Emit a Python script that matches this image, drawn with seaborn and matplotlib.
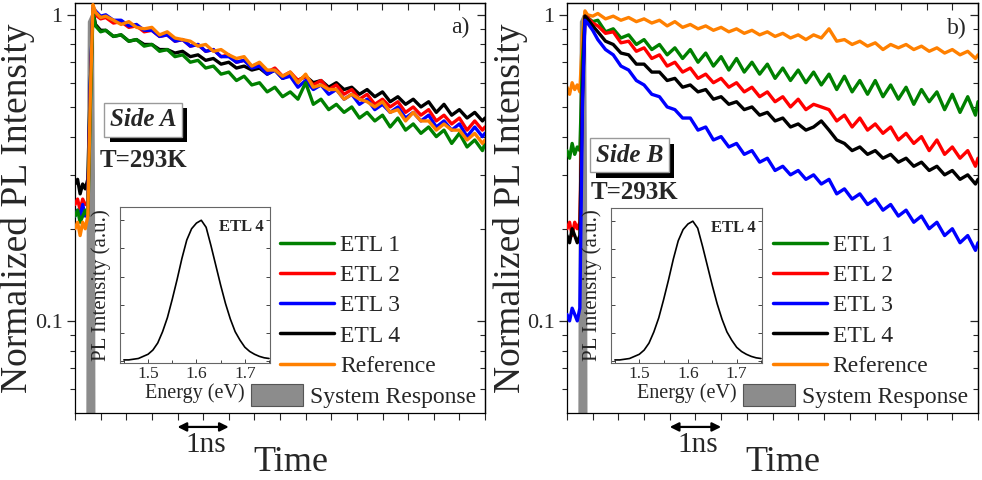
import numpy as np
import pandas as pd
import matplotlib
matplotlib.use("Agg")
import matplotlib.pyplot as plt
import seaborn as sns
from matplotlib.lines import Line2D
from matplotlib.patches import Patch
import matplotlib.patheffects as pe
from matplotlib.ticker import NullFormatter

# ---------------- data ----------------
time_ns = [0.00, 0.05, 0.10, 0.15, 0.20, 0.25, 0.30, 0.35, 0.40,
           0.50, 0.60,
           0.75, 0.90, 1.05, 1.20, 1.35, 1.50, 1.65, 1.80, 1.95, 2.10,
           2.25, 2.40, 2.55, 2.70, 2.85, 3.00, 3.15, 3.30, 3.45, 3.60,
           3.75, 3.90, 4.05, 4.20, 4.35, 4.50, 4.65, 4.80, 4.95, 5.10,
           5.25, 5.40, 5.55, 5.70, 5.85, 6.00, 6.15, 6.30, 6.45, 6.60,
           6.75, 6.90, 7.05, 7.20, 7.35, 7.50, 7.65, 7.80, 7.95, 8.00]

# Side A
a_ref = [0.20, 0.21, 0.19, 0.21, 0.20, 0.22, 0.55, 1.08, 1.02,
         0.98, 0.99,
         0.96, 0.93, 0.95, 0.91, 0.90, 0.91, 0.86, 0.88, 0.84, 0.83,
         0.82, 0.79, 0.80, 0.76, 0.77, 0.74, 0.72, 0.73, 0.68, 0.70,
         0.66, 0.66, 0.63, 0.65, 0.60, 0.64, 0.58, 0.59, 0.57, 0.57,
         0.53, 0.55, 0.53, 0.52, 0.50, 0.52, 0.48, 0.49, 0.45, 0.48,
         0.45, 0.45, 0.42, 0.44, 0.42, 0.42, 0.39, 0.41, 0.38, 0.39]
a_etl1 = [0.22, 0.23, 0.21, 0.22, 0.23, 0.22, 0.50, 1.02, 0.92,
          0.88, 0.89,
          0.85, 0.86, 0.82, 0.83, 0.79, 0.80, 0.76, 0.77, 0.73, 0.74,
          0.70, 0.71, 0.67, 0.68, 0.64, 0.65, 0.61, 0.63, 0.59, 0.60,
          0.56, 0.58, 0.54, 0.56, 0.53, 0.60, 0.51, 0.53, 0.49, 0.51,
          0.48, 0.50, 0.46, 0.48, 0.45, 0.47, 0.43, 0.46, 0.42, 0.44,
          0.41, 0.43, 0.40, 0.42, 0.38, 0.41, 0.37, 0.39, 0.36, 0.38]
a_etl2 = [0.24, 0.25, 0.23, 0.25, 0.24, 0.24, 0.55, 1.04, 1.00,
          0.97, 0.98,
          0.94, 0.95, 0.91, 0.92, 0.88, 0.89, 0.85, 0.86, 0.82, 0.83,
          0.79, 0.80, 0.76, 0.77, 0.73, 0.74, 0.70, 0.71, 0.68, 0.69,
          0.65, 0.67, 0.63, 0.65, 0.61, 0.63, 0.59, 0.61, 0.57, 0.59,
          0.55, 0.57, 0.53, 0.55, 0.51, 0.53, 0.50, 0.52, 0.48, 0.50,
          0.47, 0.49, 0.45, 0.47, 0.44, 0.46, 0.42, 0.45, 0.42, 0.43]
a_etl3 = [0.22, 0.23, 0.22, 0.24, 0.22, 0.23, 0.60, 1.06, 1.03,
          0.99, 1.00,
          0.96, 0.96, 0.92, 0.93, 0.89, 0.89, 0.85, 0.86, 0.82, 0.83,
          0.79, 0.80, 0.76, 0.77, 0.73, 0.73, 0.70, 0.71, 0.67, 0.68,
          0.64, 0.66, 0.62, 0.63, 0.58, 0.61, 0.57, 0.59, 0.55, 0.57,
          0.53, 0.55, 0.51, 0.53, 0.49, 0.51, 0.48, 0.50, 0.46, 0.48,
          0.45, 0.47, 0.43, 0.45, 0.42, 0.44, 0.40, 0.43, 0.40, 0.41]
a_etl4 = [0.28, 0.29, 0.26, 0.28, 0.27, 0.29, 0.60, 1.03, 0.93,
          0.89, 0.89,
          0.85, 0.86, 0.82, 0.83, 0.80, 0.80, 0.77, 0.77, 0.75, 0.76,
          0.73, 0.74, 0.71, 0.72, 0.69, 0.70, 0.67, 0.68, 0.66, 0.67,
          0.64, 0.66, 0.62, 0.64, 0.61, 0.63, 0.60, 0.61, 0.58, 0.60,
          0.57, 0.58, 0.55, 0.57, 0.54, 0.56, 0.52, 0.54, 0.51, 0.53,
          0.50, 0.52, 0.48, 0.51, 0.47, 0.49, 0.46, 0.48, 0.45, 0.46]

# Side B
b_ref = [0.58, 0.55, 0.60, 0.57, 0.59, 0.56, 0.85, 1.03, 1.00,
         0.99, 1.01,
         0.97, 0.99, 0.96, 0.98, 0.95, 0.97, 0.94, 0.96, 0.92, 0.95,
         0.91, 0.93, 0.90, 0.92, 0.89, 0.91, 0.88, 0.90, 0.87, 0.89,
         0.86, 0.88, 0.85, 0.87, 0.84, 0.86, 0.83, 0.86, 0.84, 0.90,
         0.82, 0.83, 0.80, 0.82, 0.79, 0.81, 0.77, 0.80, 0.78, 0.80,
         0.77, 0.79, 0.76, 0.78, 0.75, 0.77, 0.74, 0.76, 0.72, 0.74]
b_etl1 = [0.36, 0.34, 0.38, 0.35, 0.37, 0.36, 0.70, 0.99, 0.98,
          0.95, 0.96,
          0.88, 0.90, 0.84, 0.86, 0.80, 0.83, 0.77, 0.80, 0.74, 0.78,
          0.72, 0.77, 0.70, 0.75, 0.68, 0.73, 0.66, 0.72, 0.65, 0.70,
          0.64, 0.69, 0.62, 0.67, 0.61, 0.66, 0.60, 0.65, 0.59, 0.64,
          0.57, 0.63, 0.56, 0.61, 0.55, 0.61, 0.54, 0.59, 0.53, 0.58,
          0.51, 0.57, 0.52, 0.56, 0.49, 0.55, 0.48, 0.54, 0.47, 0.52]
b_etl2 = [0.20, 0.21, 0.19, 0.21, 0.20, 0.21, 0.55, 0.99, 0.98,
          0.94, 0.92,
          0.87, 0.88, 0.81, 0.82, 0.76, 0.78, 0.72, 0.74, 0.68, 0.70,
          0.65, 0.67, 0.62, 0.64, 0.60, 0.62, 0.58, 0.60, 0.56, 0.58,
          0.54, 0.56, 0.52, 0.54, 0.50, 0.53, 0.49, 0.51, 0.50, 0.49,
          0.45, 0.47, 0.43, 0.46, 0.42, 0.44, 0.41, 0.43, 0.39, 0.41,
          0.38, 0.40, 0.36, 0.39, 0.35, 0.37, 0.34, 0.36, 0.32, 0.34]
b_etl3 = [0.105, 0.10, 0.11, 0.105, 0.10, 0.11, 0.50, 0.96, 0.94,
          0.89, 0.83,
          0.77, 0.74, 0.68, 0.66, 0.61, 0.59, 0.55, 0.54, 0.50, 0.49,
          0.46, 0.46, 0.42, 0.43, 0.39, 0.40, 0.37, 0.38, 0.35, 0.36,
          0.33, 0.34, 0.31, 0.32, 0.30, 0.31, 0.29, 0.30, 0.28, 0.29,
          0.26, 0.27, 0.25, 0.26, 0.24, 0.25, 0.23, 0.24, 0.22, 0.23,
          0.21, 0.22, 0.20, 0.21, 0.19, 0.20, 0.18, 0.19, 0.17, 0.18]
b_etl4 = [0.19, 0.18, 0.20, 0.19, 0.18, 0.19, 0.55, 0.99, 0.97,
          0.92, 0.88,
          0.82, 0.80, 0.75, 0.74, 0.69, 0.69, 0.65, 0.65, 0.61, 0.62,
          0.58, 0.59, 0.56, 0.57, 0.53, 0.54, 0.51, 0.52, 0.49, 0.50,
          0.47, 0.48, 0.45, 0.46, 0.43, 0.44, 0.42, 0.43, 0.45, 0.42,
          0.39, 0.38, 0.36, 0.37, 0.35, 0.36, 0.34, 0.35, 0.33, 0.34,
          0.32, 0.33, 0.31, 0.32, 0.30, 0.31, 0.29, 0.30, 0.28, 0.29]

# System response (instrument pulse)
sys_t = [0.22, 0.23, 0.25, 0.31, 0.37, 0.39, 0.40]
sys_v = [0.04, 0.30, 0.95, 1.00, 0.95, 0.30, 0.04]

# Inset: PL spectrum of ETL 4
energy_ev = [1.45, 1.46, 1.47, 1.48, 1.49, 1.50, 1.51, 1.52, 1.53, 1.54,
             1.55, 1.56, 1.57, 1.58, 1.59, 1.60, 1.61, 1.62, 1.63, 1.64,
             1.65, 1.66, 1.67, 1.68, 1.69, 1.70, 1.71, 1.72, 1.73, 1.74, 1.75]
pl_int = [0.01, 0.01, 0.015, 0.02, 0.035, 0.05, 0.08, 0.13, 0.21, 0.31,
          0.44, 0.58, 0.73, 0.86, 0.94, 0.98, 1.00, 0.95, 0.82, 0.68,
          0.54, 0.41, 0.30, 0.21, 0.15, 0.10, 0.07, 0.05, 0.035, 0.025, 0.02]

labels = ["ETL 1", "ETL 2", "ETL 3", "ETL 4", "Reference"]
colors = {"ETL 1": "#008000", "ETL 2": "#ff0000", "ETL 3": "#0000ff",
          "ETL 4": "#000000", "Reference": "#ff8000"}
ytick_vals = [0.1, 1]
ytick_labels = ["0.1", "1"]
yminor_vals = [0.06, 0.07, 0.08, 0.09, 0.2, 0.3, 0.4, 0.5, 0.6, 0.7, 0.8, 0.9]

panel_A = {"ETL 1": a_etl1, "ETL 2": a_etl2, "ETL 3": a_etl3, "ETL 4": a_etl4, "Reference": a_ref}
panel_B = {"ETL 1": b_etl1, "ETL 2": b_etl2, "ETL 3": b_etl3, "ETL 4": b_etl4, "Reference": b_ref}

# ---------------- style ----------------
sns.set_style("ticks")
plt.rcParams["font.family"] = ["Liberation Serif", "DejaVu Serif"]
plt.rcParams["axes.linewidth"] = 0.9

W, H = 982, 480
fig = plt.figure(figsize=(W / 100, H / 100), dpi=100)

SYS_COLOR = "#8c8c8c"


def px_axes(x0, y0, x1, y1):
    return fig.add_axes([x0 / W, 1 - y1 / H, (x1 - x0) / W, (y1 - y0) / H])


def draw_panel(ax, data, order, side_txt, box_xy, temp_xy, tag, tag_xy, ylabel_x):
    ax.fill_between(sys_t, sys_v, 0.01, color=SYS_COLOR, lw=0, zorder=1)
    for i, name in enumerate(order):
        sns.lineplot(x=time_ns, y=data[name], color=colors[name], lw=2.4,
                     ax=ax, legend=False, zorder=2 + i)
    ax.set_yscale("log")
    ax.set_xlim(0, 8)
    ax.set_ylim(0.05, 1.093)
    ax.set_yticks(ytick_vals, labels=ytick_labels)
    ax.set_yticks(yminor_vals, minor=True)
    ax.yaxis.set_minor_formatter(NullFormatter())
    ax.set_xticks(np.arange(0, 8.01, 0.5))
    ax.set_xticklabels([])
    ax.tick_params(axis="y", which="major", direction="out", length=6, width=0.9,
                   labelsize=16, pad=3, right=False)
    ax.tick_params(axis="y", which="minor", direction="out", length=3.5, width=0.8, right=False)
    ax.tick_params(axis="x", which="major", direction="out", length=5, width=0.8, top=False)
    for s in ax.spines.values():
        s.set_visible(True)
        s.set_color("black")
    # inward ticks on top / right
    sec_y = ax.secondary_yaxis("right")
    sec_y.set_yticks(ytick_vals)
    sec_y.set_yticks(yminor_vals, minor=True)
    sec_y.yaxis.set_major_formatter(NullFormatter())
    sec_y.yaxis.set_minor_formatter(NullFormatter())
    sec_y.tick_params(which="major", direction="in", length=6, width=0.9)
    sec_y.tick_params(which="minor", direction="in", length=3.5, width=0.8)
    sec_x = ax.secondary_xaxis("top")
    sec_x.set_xticks(np.arange(0, 8.01, 0.5))
    sec_x.xaxis.set_major_formatter(NullFormatter())
    sec_x.tick_params(direction="in", length=5, width=0.8)

    # legends
    handles = [Line2D([], [], color=colors[n], lw=2.5) for n in labels]
    leg1 = ax.legend(handles, labels, loc="upper left", bbox_to_anchor=(0.5, 0.436),
                     frameon=False, fontsize=17, handlelength=2.3, handletextpad=0.25,
                     labelspacing=0.37, borderpad=0, borderaxespad=0)
    ax.add_artist(leg1)
    ax.legend([Patch(facecolor=SYS_COLOR, edgecolor="#555555", lw=0.8)], ["System Response"],
              loc="lower left", bbox_to_anchor=(0.429, 0.012), frameon=False, fontsize=17,
              handlelength=2.2, handleheight=1.1, handletextpad=0.3, borderpad=0,
              borderaxespad=0)

    # Side box with shadow
    t = ax.text(box_xy[0], box_xy[1], side_txt, transform=ax.transAxes, ha="center",
                va="center", fontsize=18, fontweight="bold", fontstyle="italic",
                bbox=dict(boxstyle="square,pad=0.22", fc="white", ec="#9a9a9a", lw=1.0),
                zorder=20)
    t.get_bbox_patch().set_path_effects([
        pe.SimplePatchShadow(offset=(4, -4), shadow_rgbFace="black", alpha=1.0),
        pe.Normal()])
    ax.text(temp_xy[0], temp_xy[1], "T=293K", transform=ax.transAxes, ha="center",
            va="center", fontsize=18, fontweight="bold", zorder=20)
    ax.text(tag_xy[0], tag_xy[1], tag, transform=ax.transAxes, ha="center", va="center",
            fontsize=17)

    # 1 ns scale arrow and Time label
    tr = ax.get_xaxis_transform()
    ax.annotate("", xy=(3.0, -0.034), xytext=(2.0, -0.034), xycoords=tr, textcoords=tr,
                arrowprops=dict(arrowstyle="<|-|>", color="black", lw=1.6,
                                mutation_scale=13, shrinkA=0, shrinkB=0),
                annotation_clip=False)
    ax.text(2.55, -0.078, "1ns", transform=tr, ha="center", va="center", fontsize=21)
    ax.set_xlabel("Time", fontsize=26)
    ax.xaxis.set_label_coords(0.526, -0.08)
    ax.set_ylabel("")
    fig.text(ylabel_x / W, 1 - 208 / H, "Normalized PL Intensity", rotation=90,
             ha="center", va="center", fontsize=27)


def draw_inset(ins):
    sns.lineplot(x=energy_ev, y=pl_int, color="black", lw=1.2, ax=ins, legend=False)
    ins.set_xlim(1.442, 1.752)
    ins.set_ylim(-0.012, 1.094)
    ins.set_xticks([1.5, 1.6, 1.7], labels=["1.5", "1.6", "1.7"])
    ins.set_xticks([1.45, 1.55, 1.65, 1.75], minor=True)
    ins.set_yticks([0, 0.2, 0.4, 0.6, 0.8, 1.0])
    ins.set_yticklabels([])
    ins.tick_params(axis="both", which="both", direction="in", width=0.6)
    ins.tick_params(axis="y", which="major", length=3, left=True, right=True)
    ins.tick_params(axis="x", which="major", length=3, labelsize=12.5, pad=2, top=False)
    ins.tick_params(axis="x", which="minor", length=2, top=False)
    for s in ins.spines.values():
        s.set_visible(True)
        s.set_color("#666666")
        s.set_linewidth(0.8)
    ins.set_xlabel("Energy (eV)", fontsize=14.5, labelpad=1)
    ins.set_ylabel("PL Intensity (a.u.)", fontsize=15, labelpad=3)
    ins.text(0.96, 0.87, "ETL 4", transform=ins.transAxes, ha="right", va="center",
             fontsize=12, fontweight="bold")


axA = px_axes(75, 3, 485, 413)
axB = px_axes(567, 3, 978, 413)

draw_panel(axA, panel_A, ["ETL 4", "ETL 2", "ETL 3", "ETL 1", "Reference"],
           "Side A", (0.166, 0.715), (0.166, 0.615), "a)", (0.939, 0.941), 18)
draw_panel(axB, panel_B, ["Reference", "ETL 1", "ETL 2", "ETL 4", "ETL 3"],
           "Side B", (0.152, 0.629), (0.165, 0.538), "b)", (0.949, 0.939), 510)

insA = px_axes(120, 207, 270, 363)
insB = px_axes(611, 208, 762, 363)
draw_inset(insA)
draw_inset(insB)

fig.savefig("out.png", dpi=100)
